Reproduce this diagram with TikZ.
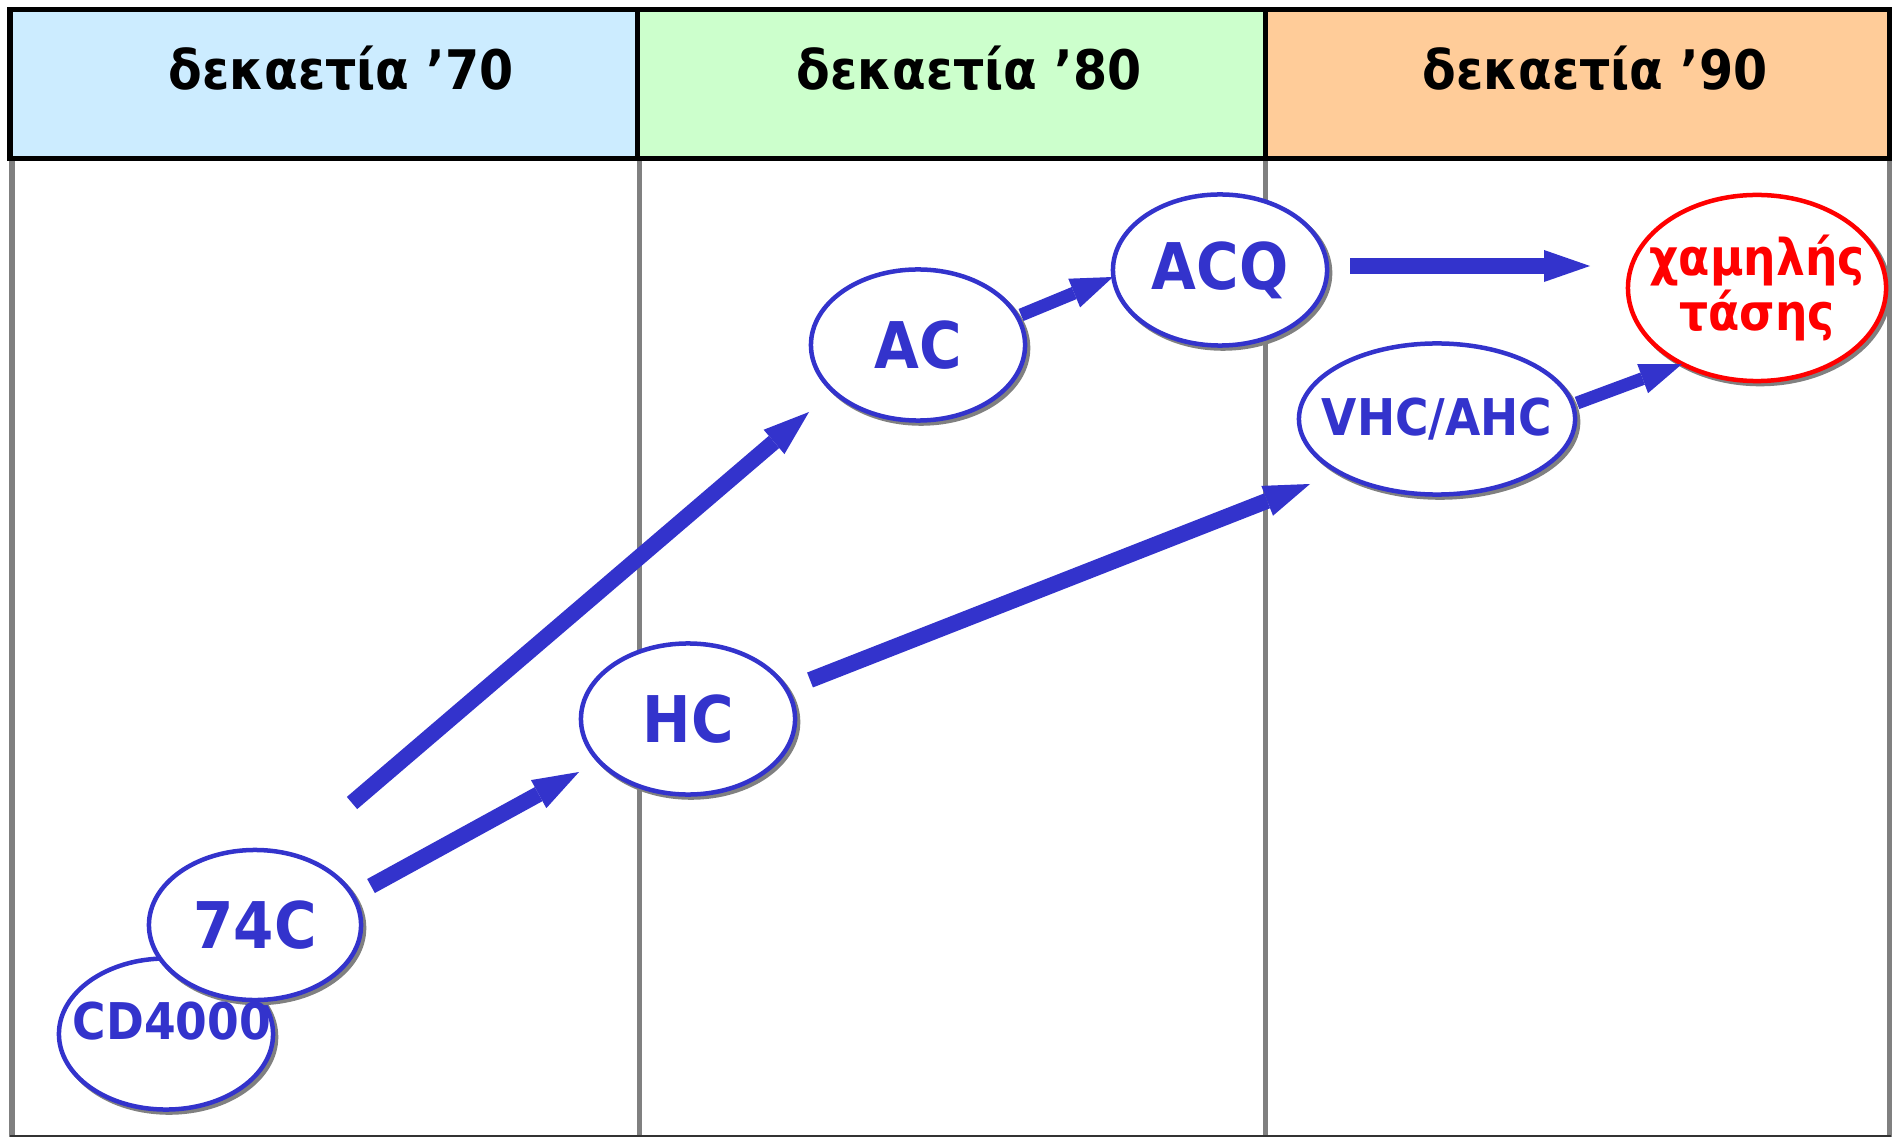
\documentclass[tikz,border=0pt]{standalone}
\usepackage{fontspec}
\setmainfont{DejaVu Sans Condensed}
\usepackage{tikz}
\usetikzlibrary{arrows.meta,calc,positioning,shapes.geometric,shadows}
\definecolor{eraBlue}{HTML}{3333CC}
\definecolor{hdBlue}{HTML}{CCECFF}
\definecolor{hdGreen}{HTML}{CCFFCC}
\definecolor{hdOrange}{HTML}{FFCC99}
\definecolor{gridGray}{HTML}{808080}
\tikzset{%
	decade/.style   = {draw=black, line width=0.05cm}, % header cell
	hdtext/.style   = {anchor=base, inner sep=0pt, font=\bfseries\fontsize{15.5}{18}\selectfont}, % header text
	gridline/.style = {draw=gridGray, line width=0.05cm}, % column line
	era/.style      = {ellipse, draw=eraBlue, fill=white, line width=0.045cm, minimum width=2.14cm, minimum height=1.51cm,
	                   inner xsep=-0.3cm, inner ysep=0pt, text=eraBlue, font=\bfseries\fontsize{18.3}{22}\selectfont,
	                   drop shadow={shadow xshift=0.03cm, shadow yshift=-0.03cm, fill=gridGray, draw=gridGray, opacity=1}},
	smallera/.style = {era, font=\bfseries\fontsize{14.4}{17}\selectfont},
	goal/.style     = {smallera, draw=red, text=red, align=center, minimum width=2.58cm, minimum height=1.86cm,
	                   font=\bfseries\fontsize{14.4}{13.7}\selectfont, drop shadow={opacity=0}},
	eratext/.style  = {inner sep=0pt, text=eraBlue, font=\bfseries\fontsize{14.4}{17}\selectfont},
	flow/.style     = {draw=eraBlue, line width=0.16cm, -{Triangle[length=0.46cm, width=0.32cm, line width=0pt]}},
	thinflow/.style = {draw=eraBlue, line width=0.13cm, -{Triangle[length=0.42cm, width=0.31cm, line width=0pt]}},
}

\begin{document}
\begin{tikzpicture}[x=0.01cm, y=-0.01cm]
	\useasboundingbox (0,0) rectangle (1892,1137);
	% columns
	\foreach \x in {12,639,1265,1889}
		\draw[gridline] (\x,159) -- (\x,1137);
	\draw[draw=black!80, line width=0.02cm] (10,1136) -- (1891,1136);
	\draw[decade, fill=hdBlue]   (10,10)   rectangle (637,159);
	\draw[decade, fill=hdGreen]  (637,10)  rectangle (1265,159);
	\draw[decade, fill=hdOrange] (1265,10) rectangle (1889,159);
	\node [hdtext] (t70) at (341,90)  {δεκαετία ’70};
	\node [hdtext] (t80) at (969,90)  {δεκαετία ’80};
	\node [hdtext] (t90) at (1595,90) {δεκαετία ’90};
	
	\node [smallera] (cd)  at (166,1034) {};
	\node [era, minimum width=2.12cm, minimum height=1.50cm] (c74) at (255,925) {74C};
	\node [eratext] (cdlbl) at ($(cd)+(6,-13)$) {CD4000};
	\node [era] (hc)  at (688,719) {HC};
	\node [era] (ac)  at (918,345) {AC};
	\node [era] (acq) at (1220,270) {ACQ};
	\node [smallera, minimum width=2.76cm] (vhc) at (1437,419) {VHC/AHC};
	\node [goal] (low) at (1757,288) {χαμηλής\\τάσης};
	
	\draw[flow] ($(c74)+(116,-39)$) -- ($(hc)+(-109,53)$);
	\draw[flow] ($(c74)+(97,-122)$) -- ($(ac)+(-109,67)$);
	\draw[flow] ($(hc)+(122,-39)$) -- ($(vhc)+(-127,65)$);
	\draw[thinflow] ($(ac)+(103,-30)$) -- ($(acq)+(-107,7)$);
	\draw[thinflow] ($(vhc)+(140,-16)$) -- ($(low)+(-75,76)$);
	\draw[flow] ($(acq)+(130,-4)$) -- ($(low)+(-167,-22)$);
\end{tikzpicture}
\end{document}
